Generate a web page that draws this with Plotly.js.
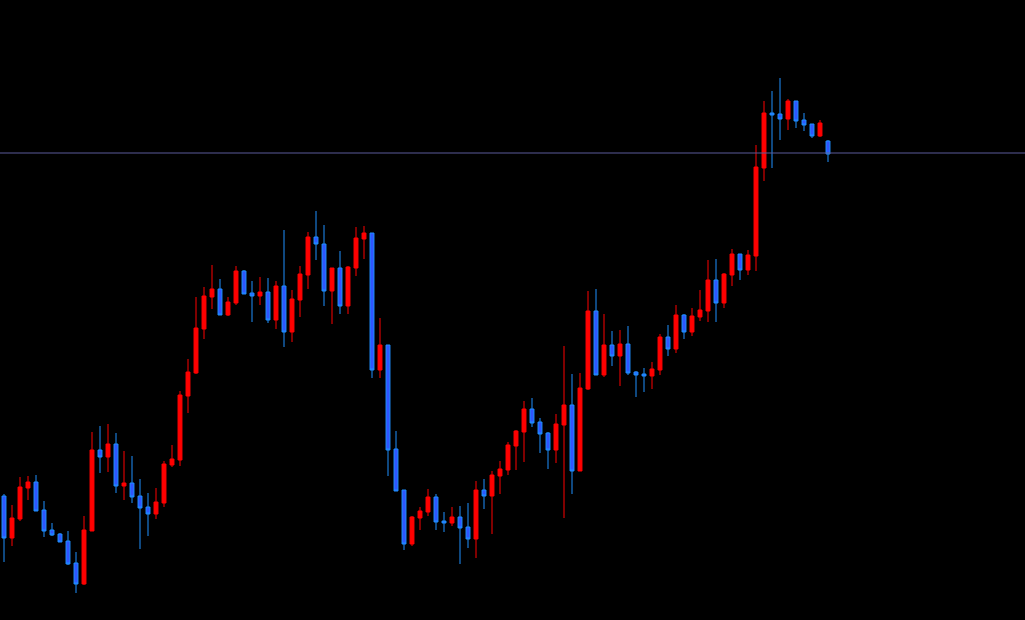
<!DOCTYPE html>
<html>
<head>
<meta charset="utf-8">
<script src="https://cdn.plot.ly/plotly-3.0.1.min.js"></script>
<style>html,body{margin:0;padding:0;background:#000;}#chart{width:1025px;height:620px;}</style>
</head>
<body>
<div id="chart"></div>
<script>
const openPrices  = [124,82,101,132,138,110,90,86,79,57,36,89,170,163,176,134,137,124,113,106,117,155,160,224,247,291,323,331,305,317,349,327,324,328,300,334,288,320,345,383,376,329,352,314,352,381,387,250,275,171,130,76,102,108,123,99,97,103,93,81,130,124,144,150,174,188,211,198,187,170,195,215,149,231,309,245,275,264,276,248,246,244,250,283,271,305,288,303,309,340,317,345,366,350,364,452,507,506,501,519,500,496,484,479];
const highPrices  = [126,115,143,144,145,119,97,87,89,68,104,188,194,196,187,169,164,141,127,132,159,175,229,261,323,333,355,341,323,354,350,339,343,342,339,390,330,354,388,409,395,352,369,354,393,394,387,302,275,189,130,104,113,131,126,108,113,114,117,139,141,149,159,178,190,219,222,202,188,206,274,246,247,329,331,306,289,290,294,249,252,258,286,295,315,306,312,330,360,361,347,371,366,370,475,519,529,542,521,519,507,496,500,480];
const lowPrices   = [58,74,99,120,109,83,84,78,55,27,35,89,147,148,127,120,117,71,84,101,113,153,154,207,246,281,311,305,304,315,326,298,315,297,291,273,278,303,331,360,314,296,306,306,344,361,242,242,144,129,70,74,90,104,90,88,94,56,72,62,111,86,126,145,150,158,193,167,151,157,102,126,149,230,245,243,254,234,245,223,228,231,245,264,267,281,284,299,298,298,312,334,340,345,349,439,452,480,490,492,489,482,483,458];
const closePrices = [82,102,133,138,109,89,85,78,56,36,90,170,163,176,134,137,123,112,106,118,156,161,225,248,292,324,331,305,318,349,326,324,328,300,334,288,321,346,383,376,329,352,314,353,382,387,250,275,170,129,76,103,109,123,98,97,103,92,81,130,124,145,151,175,189,211,197,186,170,196,215,149,232,309,245,275,264,276,247,245,244,251,283,271,305,288,304,310,340,317,346,366,350,365,453,507,505,501,519,499,495,484,497,466];
const barIndex = openPrices.map((_, i) => i);
const referenceLevel = 467;

const trace = {
  type: 'candlestick',
  x: barIndex,
  open: openPrices,
  high: highPrices,
  low: lowPrices,
  close: closePrices,
  increasing: {line: {color: '#ff0000', width: 1}, fillcolor: '#ff0000'},
  decreasing: {line: {color: '#1e90ff', width: 1}, fillcolor: '#2f55ff'},
  whiskerwidth: 0,
  hoverinfo: 'none'
};

const layout = {
  width: 1025, height: 620,
  margin: {l: 0, r: 0, t: 0, b: 0, pad: 0},
  paper_bgcolor: '#000000',
  plot_bgcolor: '#000000',
  showlegend: false,
  xaxis: {range: [-0.5, 127.625], showgrid: false, zeroline: false, showticklabels: false, showline: false, ticks: '', rangeslider: {visible: false}},
  yaxis: {range: [0, 620], showgrid: false, zeroline: false, showticklabels: false, showline: false, ticks: ''},
  shapes: [{type: 'line', xref: 'paper', x0: 0, x1: 1, yref: 'y', y0: referenceLevel, y1: referenceLevel, line: {color: '#5a5a9a', width: 1}}]
};

Plotly.newPlot('chart', [trace], layout, {displayModeBar: false, staticPlot: true});
</script>
</body>
</html>
